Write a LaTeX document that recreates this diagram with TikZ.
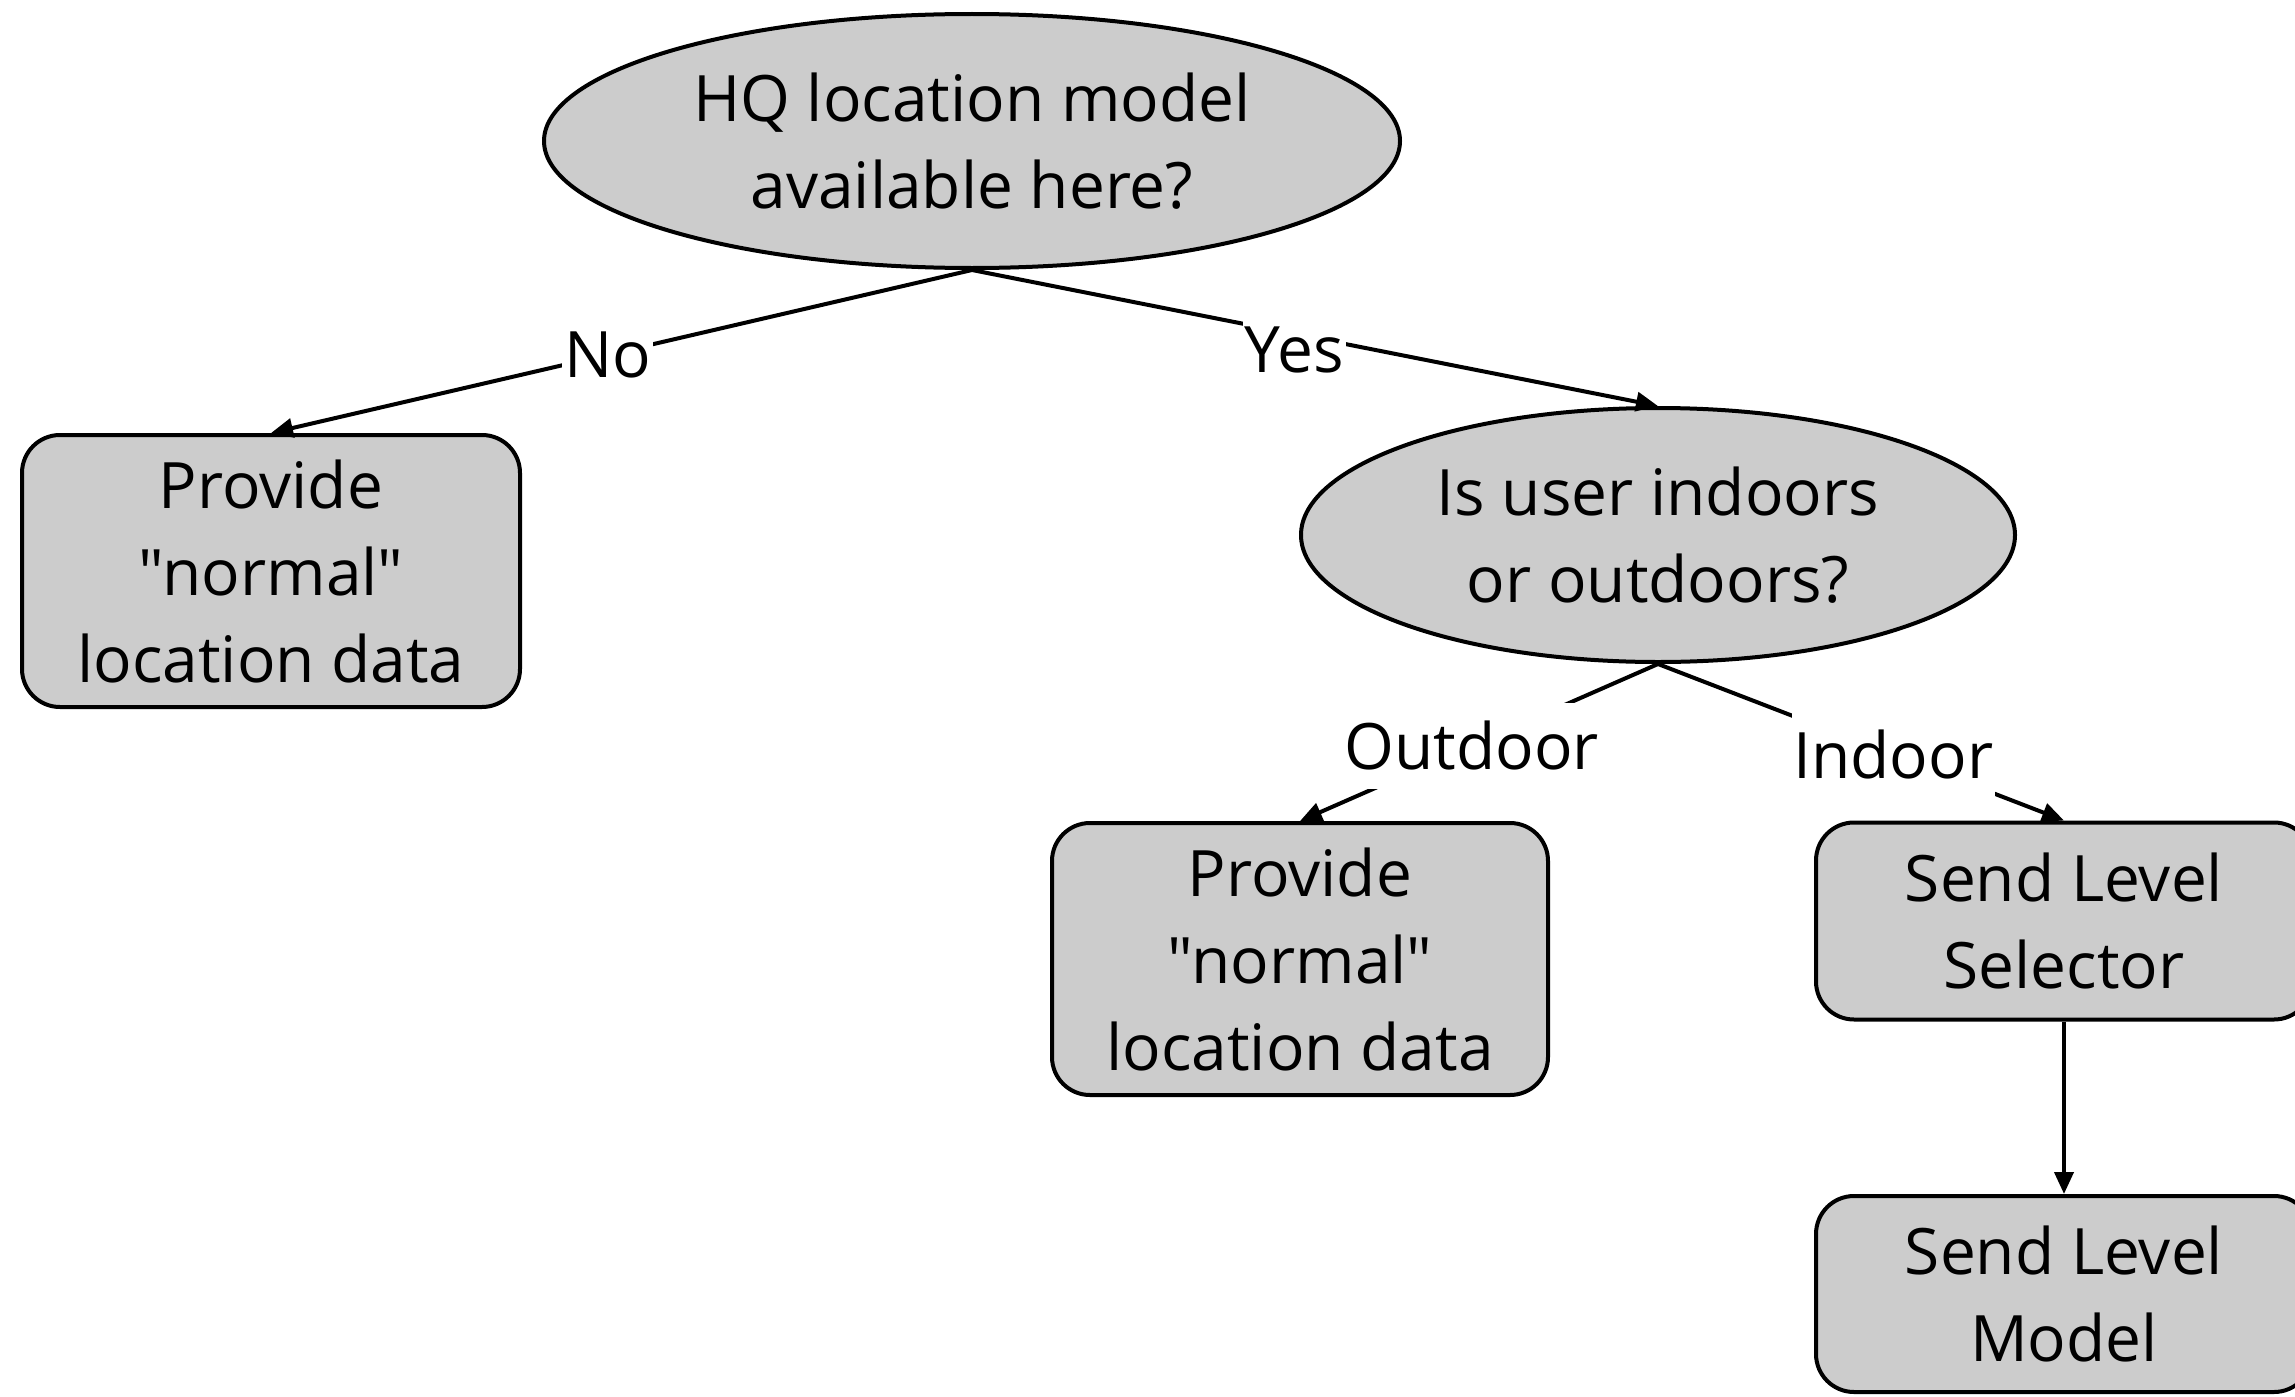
\documentclass[tikz,border=0pt]{standalone}
\usepackage{fontspec}
\setmainfont{Open Sans}[Ligatures=TeXOff]
\usetikzlibrary{arrows.meta,shapes.geometric}
\begin{document}
\begin{tikzpicture}[x=1pt,y=-1pt,
  every node/.style={font=\fontsize{64}{87}\selectfont},
  base/.style={draw=black,line width=4pt,fill={rgb,255:red,204;green,204;blue,204},align=center,inner sep=0pt},
  qnode/.style={base,ellipse},
  boxnode/.style={base,rounded corners=38pt},
  conn/.style={line width=4pt,-{Triangle[length=22pt,width=19pt]}},
  lbl/.style={fill=white,inner xsep=2pt,inner ysep=0pt,minimum height=86pt}]
\useasboundingbox (0,0) rectangle (2295,1397);
\clip (0,0) rectangle (2295,1397);
\node[qnode,minimum width=856pt,minimum height=254pt] (q1) at (972,141) {HQ location model\\available here?};
\node[boxnode,minimum width=498pt,minimum height=272pt] (b1) at (271,571) {Provide\\"normal"\\location data};
\node[qnode,minimum width=714pt,minimum height=254pt] (q2) at (1658,535) {Is user indoors\\or outdoors?};
\node[boxnode,minimum width=496pt,minimum height=272pt] (b2) at (1300,959) {Provide\\"normal"\\location data};
\node[boxnode,minimum width=496pt,minimum height=197pt] (b3) at (2064,921) {Send Level\\Selector};
\node[boxnode,minimum width=496pt,minimum height=196pt] (b4) at (2064,1294) {Send Level\\Model};
\draw[conn] (q1.south) -- node[lbl,pos=0.52] {No} (b1.north);
\draw[conn] (q1.south) -- node[lbl,pos=0.47,yshift=-16pt] {Yes} (q2.north);
\draw[conn] (q2.south) -- node[lbl,pos=0.52] {Outdoor} (b2.north);
\draw[conn] (q2.south) -- node[lbl,pos=0.58] {Indoor} (b3.north);
\draw[conn] (b3.south) -- (b4.north);
\end{tikzpicture}
\end{document}
